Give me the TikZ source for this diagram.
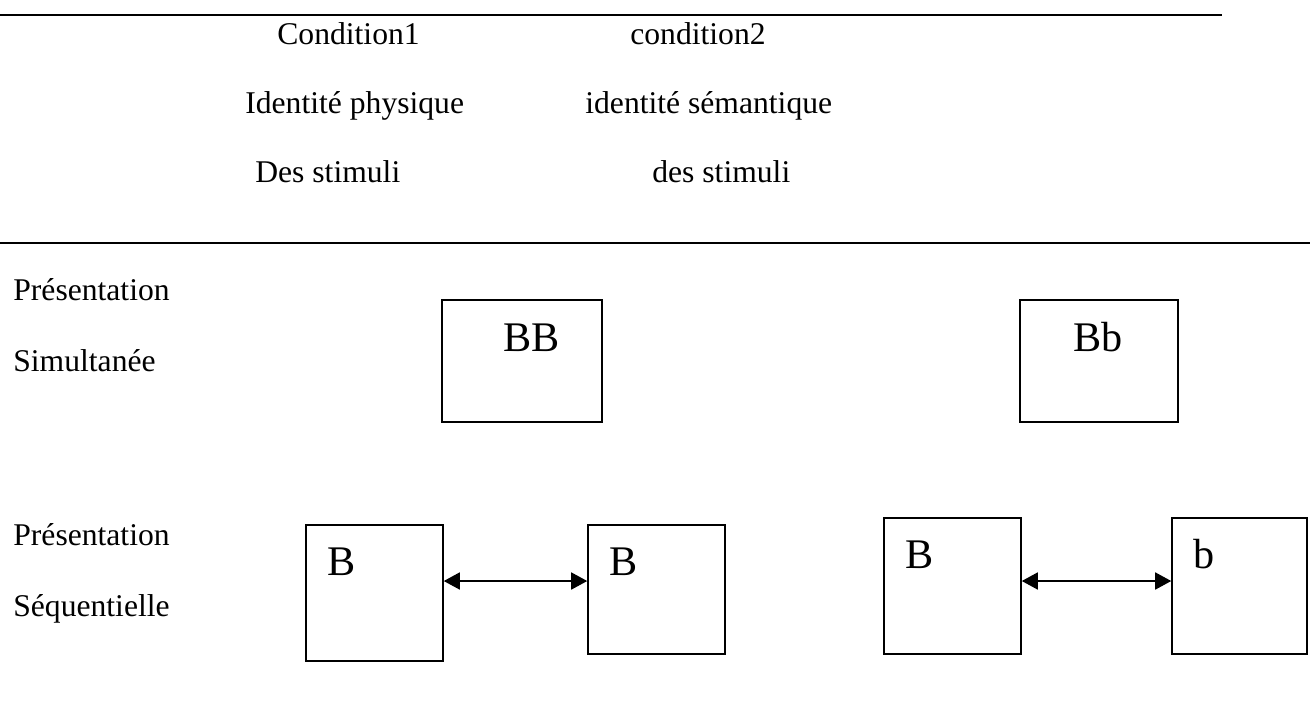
\documentclass[tikz,border=0pt]{standalone}
\usepackage{fontspec}
\setmainfont{Liberation Serif}
\usetikzlibrary{arrows.meta}
\usetikzlibrary{positioning}
\begin{document}
\begin{tikzpicture}[x=0.02cm, y=-0.02cm, every path/.style={>={Triangle[length=0.32cm,width=0.34cm]}},
	txt/.style={anchor=base west, inner sep=0pt, font=\fontsize{18}{20}\selectfont},
	lettre/.style={anchor=base west, inner sep=0pt, font=\fontsize{24}{28}\selectfont},
	cadre/.style={rectangle, draw, line width=0.9pt, inner sep=0pt},
	regle/.style={line width=1.2pt}]
	\useasboundingbox (0,0) rectangle (1310,711);
	\draw[regle] (0,15) -- (1222,15);
	\draw[regle] (0,243) -- (1310,243);
	\node (c1) at (277,44) [txt] {Condition1};
	\node (c2) at (630,44) [txt] {condition2};
	\node (idp) at (245,113) [txt] {Identité physique};
	\node (ids) at (585,113) [txt] {identité sémantique};
	\node (st1) at (255,182) [txt] {Des stimuli};
	\node (st2) at (652,182) [txt] {des stimuli};
	\node (pres1) at (13,300) [txt] {Présentation};
	\node (simul) at (13,371) [txt] {Simultanée};
	\node (pres2) at (13,545) [txt] {Présentation};
	\node (sequ) at (13,616) [txt] {Séquentielle};
	\node (simBB) at (522,361) [cadre, minimum width=3.2cm, minimum height=2.44cm] {};
	\node (tBB) at (503,351) [lettre] {BB};
	\node (simBb) at (1099,361) [cadre, minimum width=3.16cm, minimum height=2.44cm] {};
	\node (tBb) at (1073,351) [lettre] {Bb};
	\node (seq1) at (374.5,593) [cadre, minimum width=2.74cm, minimum height=2.72cm] {};
	\node (tB1) at (327,575) [lettre] {B};
	\node (seq2) at (656.5,589.5) [cadre, minimum width=2.74cm, minimum height=2.58cm] {};
	\node (tB2) at (609,575) [lettre] {B};
	\node (seq3) at (952.5,586) [cadre, minimum width=2.74cm, minimum height=2.72cm] {};
	\node (tB3) at (905,568) [lettre] {B};
	\node (seq4) at (1239.5,586) [cadre, minimum width=2.7cm, minimum height=2.72cm] {};
	\node (tb4) at (1193,568) [lettre] {b};
	\draw[<->, line width=0.9pt] ([yshift=0.24cm]seq1.east) -- ([yshift=0.24cm]seq1.east -| seq2.west);
	\draw[<->, line width=0.9pt] ([yshift=0.1cm]seq3.east) -- ([yshift=0.1cm]seq3.east -| seq4.west);
\end{tikzpicture}
\end{document}
